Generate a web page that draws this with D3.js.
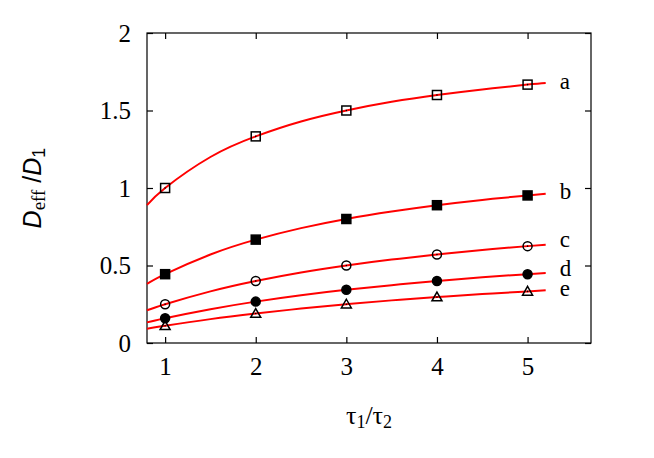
<!DOCTYPE html>
<html>
<head>
  <meta charset="utf-8">
  <title>Deff / D1</title>
  <script src="https://d3js.org/d3.v7.min.js"></script>
  <style>
    html, body { margin: 0; background: #fff; }
    text { font-family: "Liberation Serif", "DejaVu Serif", serif; fill: #000; }
  </style>
</head>
<body>
<svg width="654" height="458"></svg>
<script>
// tau1/tau2 values of the measured points
const taus = [1, 2, 3, 4, 5];
const seriesNames = ["a", "b", "c", "d", "e"];
const ptsA = [1.0, 1.333, 1.5, 1.6, 1.667];
const ptsB = [0.444, 0.667, 0.8, 0.889, 0.952];
const ptsC = [0.25, 0.4, 0.5, 0.571, 0.625];
const ptsD = [0.16, 0.267, 0.343, 0.4, 0.444];
const ptsE = [0.111, 0.19, 0.25, 0.296, 0.333];

// fitted curves
const curveX = [0.8, 1, 1.5, 2, 2.5, 3, 3.5, 4, 4.5, 5, 5.2];
const fitA = [0.889, 1.0, 1.2, 1.333, 1.429, 1.5, 1.556, 1.6, 1.636, 1.667, 1.677];
const fitB = [0.381, 0.444, 0.571, 0.667, 0.741, 0.8, 0.848, 0.889, 0.923, 0.952, 0.963];
const fitC = [0.211, 0.25, 0.333, 0.4, 0.455, 0.5, 0.538, 0.571, 0.6, 0.625, 0.634];
const fitD = [0.133, 0.16, 0.218, 0.267, 0.308, 0.343, 0.373, 0.4, 0.424, 0.444, 0.452];
const fitE = [0.092, 0.111, 0.154, 0.19, 0.222, 0.25, 0.275, 0.296, 0.316, 0.333, 0.34];

const xTicks = [1, 2, 3, 4, 5];
const yTicks = [0, 0.5, 1, 1.5, 2];

const points = [ptsA, ptsB, ptsC, ptsD, ptsE];
const fits = [fitA, fitB, fitC, fitD, fitE];
const markers = ["squareOpen", "squareFilled", "circleOpen", "circleFilled", "triangleOpen"];

const pLeft = 147, pRight = 591, pTop = 33, pBottom = 343;
const x = d3.scaleLinear().domain([0.8, 5.7]).range([pLeft, pRight]);
const y = d3.scaleLinear().domain([0, 2]).range([pBottom, pTop]);

const svg = d3.select("svg");

// frame
svg.append("rect")
  .attr("x", pLeft).attr("y", pTop)
  .attr("width", pRight - pLeft).attr("height", pBottom - pTop)
  .attr("fill", "none").attr("stroke", "#000").attr("stroke-width", 1.2);

// axes with inward ticks, mirrored
const tk = 6;
const fmt = d => d3.format("")(d);
svg.append("g").attr("transform", `translate(0,${pBottom})`)
  .call(d3.axisBottom(x).tickValues(xTicks).tickSizeInner(-tk).tickSizeOuter(0).tickPadding(14).tickFormat(fmt));
svg.append("g").attr("transform", `translate(0,${pTop})`)
  .call(d3.axisTop(x).tickValues(xTicks).tickSizeInner(-tk).tickSizeOuter(0).tickFormat(""));
svg.append("g").attr("transform", `translate(${pLeft},0)`)
  .call(d3.axisLeft(y).tickValues(yTicks).tickSizeInner(-tk).tickSizeOuter(0).tickPadding(16).tickFormat(fmt));
svg.append("g").attr("transform", `translate(${pRight},0)`)
  .call(d3.axisRight(y).tickValues(yTicks).tickSizeInner(-tk).tickSizeOuter(0).tickFormat(""));

svg.selectAll(".domain").remove();
svg.selectAll("g").attr("font-family", null).attr("font-size", null);
svg.selectAll(".tick line").attr("stroke", "#000").attr("stroke-width", 1.2);
svg.selectAll(".tick text")
  .style("font-family", "'Liberation Serif', serif")
  .style("font-size", "25px").attr("fill", "#000");

// curves
const line = d3.line()
  .x((d, i) => x(curveX[i]))
  .y(d => y(d))
  .curve(d3.curveNatural);

svg.append("g").selectAll("path")
  .data(fits)
  .join("path")
  .attr("d", d => line(d))
  .attr("fill", "none")
  .attr("stroke", "#f00")
  .attr("stroke-width", 2);

// markers
function drawMarker(g, kind, cx, cy) {
  const s = 4.5;
  if (kind === "squareOpen" || kind === "squareFilled") {
    g.append("rect")
      .attr("x", cx - s).attr("y", cy - s).attr("width", 2 * s).attr("height", 2 * s)
      .attr("fill", kind === "squareFilled" ? "#000" : "none")
      .attr("stroke", "#000").attr("stroke-width", 1.5);
  } else if (kind === "circleOpen" || kind === "circleFilled") {
    g.append("circle")
      .attr("cx", cx).attr("cy", cy).attr("r", s)
      .attr("fill", kind === "circleFilled" ? "#000" : "none")
      .attr("stroke", "#000").attr("stroke-width", 1.5);
  } else {
    const h = 5;
    g.append("path")
      .attr("d", `M${cx},${cy - h}L${cx + h},${cy + h * 0.75}L${cx - h},${cy + h * 0.75}Z`)
      .attr("fill", "none").attr("stroke", "#000").attr("stroke-width", 1.5);
  }
  if (kind === "squareOpen" || kind === "circleOpen" || kind === "triangleOpen") {
    g.append("circle").attr("cx", cx).attr("cy", cy).attr("r", 0.8).attr("fill", "#000");
  }
}

const mg = svg.append("g");
points.forEach((vals, si) => {
  vals.forEach((v, i) => drawMarker(mg, markers[si], x(taus[i]), y(v)));
});

// series labels at the curve ends
const labelY = [1.682, 0.976, 0.665, 0.476, 0.345];
svg.append("g").selectAll("text")
  .data(seriesNames)
  .join("text")
  .attr("x", x(5.2) + 14)
  .attr("y", (d, i) => y(labelY[i]))
  .attr("dy", "0.3em")
  .style("font-size", "23px")
  .text(d => d);

// x axis title
const xt = svg.append("text")
  .attr("x", 369).attr("y", 424)
  .attr("text-anchor", "middle")
  .style("font-size", "26px");
xt.append("tspan").text("τ");
xt.append("tspan").attr("baseline-shift", "-22%").style("font-size", "18px").text("1");
xt.append("tspan").text("/τ");
xt.append("tspan").attr("baseline-shift", "-22%").style("font-size", "18px").text("2");

// y axis title
const yt = svg.append("text")
  .attr("transform", "translate(41,188) rotate(-90)")
  .attr("text-anchor", "middle")
  .style("font-family", "'Liberation Sans', sans-serif")
  .style("font-size", "25px");
yt.append("tspan").style("font-style", "italic").text("D");
yt.append("tspan").attr("baseline-shift", "-22%")
  .style("font-family", "'Liberation Serif', serif").style("font-size", "19px").text("eff");
yt.append("tspan").text(" /");
yt.append("tspan").style("font-style", "italic").text("D");
yt.append("tspan").attr("baseline-shift", "-22%").style("font-size", "18px").text("1");
</script>
</body>
</html>
